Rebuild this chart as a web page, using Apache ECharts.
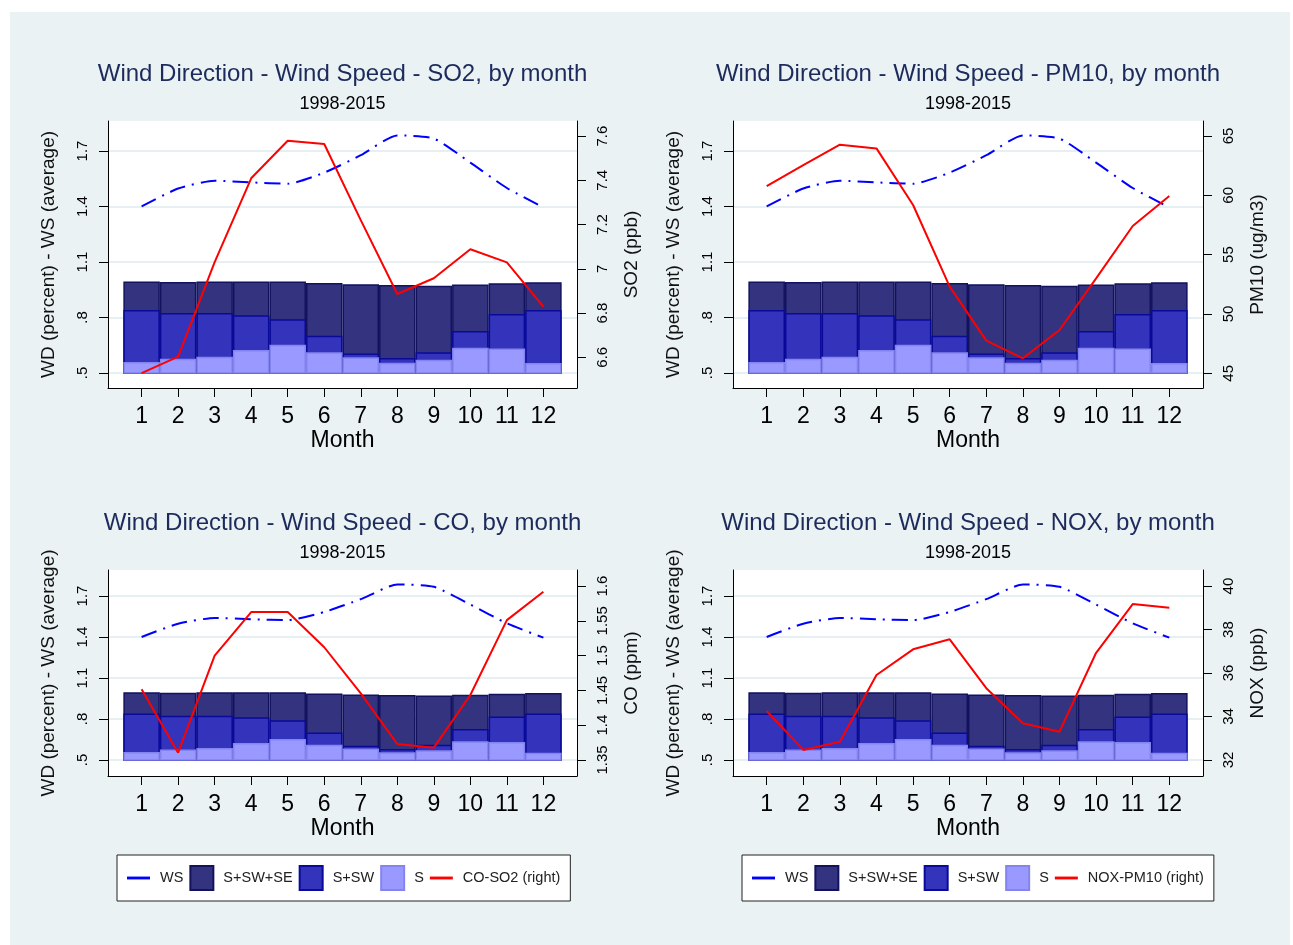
<!DOCTYPE html>
<html><head><meta charset="utf-8">
<script src="https://cdn.jsdelivr.net/npm/echarts@6/dist/echarts.min.js"></script>
<style>
html,body{margin:0;padding:0;background:#fff;}
#bg{position:absolute;left:10px;top:12px;width:1280px;height:933px;background:#eaf2f3;}
#chart{position:absolute;left:0;top:0;width:1293px;height:945px;}
</style></head><body>
<div id="bg"></div><div id="chart"></div>
<script>
// ---------- data ----------
const months = [1,2,3,4,5,6,7,8,9,10,11,12];
const ws   = [1.400,1.497,1.539,1.530,1.523,1.583,1.677,1.784,1.767,1.637,1.500,1.395];
const sse  = [0.995,0.992,0.995,0.995,0.995,0.986,0.980,0.975,0.972,0.978,0.985,0.990];
const sw   = [0.841,0.824,0.824,0.812,0.790,0.702,0.605,0.581,0.612,0.727,0.819,0.841];
const s    = [0.559,0.577,0.588,0.624,0.653,0.612,0.585,0.556,0.572,0.637,0.632,0.554];
const so2  = [6.528,6.603,7.030,7.409,7.579,7.564,7.220,6.886,6.957,7.088,7.029,6.829];
const pm10 = [60.78,62.55,64.26,63.95,59.18,52.30,47.75,46.26,48.65,53.00,57.41,59.94];
const co   = [1.4516,1.3605,1.4999,1.5626,1.5626,1.5120,1.4458,1.3730,1.3677,1.4434,1.5510,1.5918];
const nox  = [34.25,32.46,32.84,35.91,37.09,37.55,35.30,33.69,33.30,36.93,39.17,39.00];

const leftTicks = [0.5,0.8,1.1,1.4,1.7];
const leftTickLabels = ['.5','.8','1.1','1.4','1.7'];
const so2Ticks  = [6.6,6.8,7,7.2,7.4,7.6];
const pm10Ticks = [45,50,55,60,65];
const coTicks   = [1.35,1.4,1.45,1.5,1.55,1.6];
const noxTicks  = [32,34,36,38,40];
const barBase = 0.5;

// ---------- layout ----------
const FONT = '"Liberation Sans", Arial, Helvetica, sans-serif';
const xMin = 0.08, xMax = 12.92;
const panels = [
  {title:'Wind Direction - Wind Speed - SO2, by month', cx:342.5, ty:74, sy:104, left:108, top:121, width:469, height:267, lMin:0.419, lMax:1.862, rMin:6.461, rMax:7.668, rTicks:so2Ticks, rName:'SO2 (ppb)', red:so2, redName:'CO-SO2 (right)'},
  {title:'Wind Direction - Wind Speed - PM10, by month', cx:968, ty:74, sy:104, left:733, top:121, width:470, height:267, lMin:0.419, lMax:1.862, rMin:43.76, rMax:66.26, rTicks:pm10Ticks, rName:'PM10 (ug/m3)', red:pm10, redName:'NOX-PM10 (right)'},
  {title:'Wind Direction - Wind Speed - CO, by month', cx:342.5, ty:523, sy:553, left:108, top:570, width:469, height:206, lMin:0.383, lMax:1.890, rMin:1.327, rMax:1.623, rTicks:coTicks, rName:'CO (ppm)', red:co, redName:'CO-SO2 (right)'},
  {title:'Wind Direction - Wind Speed - NOX, by month', cx:968, ty:523, sy:553, left:733, top:570, width:470, height:206, lMin:0.383, lMax:1.890, rMin:31.26, rMax:40.74, rTicks:noxTicks, rName:'NOX (ppb)', red:nox, redName:'NOX-PM10 (right)'}
];

function leftFmt(v){
  let best = 0;
  for (let i=1;i<leftTicks.length;i++) if (Math.abs(leftTicks[i]-v) < Math.abs(leftTicks[best]-v)) best = i;
  return leftTickLabels[best];
}

const option = {
  animation:false,
  backgroundColor:'transparent',
  textStyle:{fontFamily:FONT},
  title:[], grid:[], xAxis:[], yAxis:[], series:[],
  legend:[]
};

panels.forEach((p,i)=>{
  option.title.push({text:p.title, left:p.cx, top:p.ty, textAlign:'center', textVerticalAlign:'middle', padding:0,
    textStyle:{fontFamily:FONT, fontSize:24, fontWeight:'normal', color:'#1c2b5c'}});
  option.title.push({text:'1998-2015', left:p.cx, top:p.sy, textAlign:'center', textVerticalAlign:'middle', padding:0,
    textStyle:{fontFamily:FONT, fontSize:18, fontWeight:'normal', color:'#000'}});
  // main grid (index 2i) and bar grid (index 2i+1) whose bottom sits at the bar base value
  option.grid.push({left:p.left, top:p.top, width:p.width, height:p.height, show:true, backgroundColor:'#fff', borderWidth:0, containLabel:false, outerBoundsMode:'none'});
  const barH = p.height*(p.lMax-barBase)/(p.lMax-p.lMin);
  option.grid.push({left:p.left, top:p.top, width:p.width, height:barH, show:false, containLabel:false, outerBoundsMode:'none'});

  option.xAxis.push({type:'value', gridIndex:2*i, min:xMin, max:xMax,
    axisLine:{show:true, onZero:false, lineStyle:{color:'#000', width:1}},
    axisTick:{show:true, length:9, customValues:months, lineStyle:{color:'#000', width:1}},
    axisLabel:{customValues:months, fontSize:23, margin:17, color:'#000', fontFamily:FONT},
    splitLine:{show:false},
    name:'Month', nameLocation:'middle', nameGap:41, nameTextStyle:{fontSize:23, color:'#000', fontFamily:FONT}});
  option.xAxis.push({type:'value', gridIndex:2*i+1, min:xMin, max:xMax, show:false});

  option.yAxis.push({type:'value', gridIndex:2*i, position:'left', min:p.lMin, max:p.lMax,
    axisLine:{show:true, onZero:false, lineStyle:{color:'#000', width:1}},
    axisTick:{show:true, length:9, customValues:leftTicks, lineStyle:{color:'#000', width:1}},
    axisLabel:{customValues:leftTicks, rotate:90, fontSize:15, margin:18, color:'#000', fontFamily:FONT, formatter:leftFmt},
    splitLine:{show:true, lineStyle:{color:'#e6eff1', width:2}},
    name:'WD (percent) - WS (average)', nameLocation:'middle', nameRotate:90, nameGap:50,
    nameTextStyle:{fontSize:19, color:'#111', fontFamily:FONT}});
  option.yAxis.push({type:'value', gridIndex:2*i, position:'right', min:p.rMin, max:p.rMax,
    axisLine:{show:true, onZero:false, lineStyle:{color:'#000', width:1}},
    axisTick:{show:true, length:9, customValues:p.rTicks, lineStyle:{color:'#000', width:1}},
    axisLabel:{customValues:p.rTicks, rotate:90, fontSize:15, margin:18, color:'#000', fontFamily:FONT},
    splitLine:{show:false},
    name:p.rName, nameLocation:'middle', nameRotate:90, nameGap:45,
    nameTextStyle:{fontSize:19, color:'#111', fontFamily:FONT}});
  option.yAxis.push({type:'value', gridIndex:2*i+1, min:barBase, max:p.lMax, show:false});

  const bw = p.width/(xMax-xMin);
  const common = {type:'bar', xAxisIndex:2*i+1, yAxisIndex:3*i+2, barWidth:bw, barGap:'-100%', silent:true, clip:true};
  option.series.push(Object.assign({}, common, {name:'S+SW+SE', data:months.map((m,k)=>[m,sse[k]]), itemStyle:{color:'#333380', borderColor:'#12125e', borderWidth:1.5}, z:2}));
  option.series.push(Object.assign({}, common, {name:'S+SW', data:months.map((m,k)=>[m,sw[k]]), itemStyle:{color:'#3333bb', borderColor:'#0a0a9a', borderWidth:1.5}, z:3}));
  option.series.push(Object.assign({}, common, {name:'S', data:months.map((m,k)=>[m,s[k]]), itemStyle:{color:'#9999ff', borderColor:'#8484ee', borderWidth:1.5}, z:4}));
  option.series.push({type:'line', name:'WS', xAxisIndex:2*i, yAxisIndex:3*i, data:months.map((m,k)=>[m,ws[k]]),
    symbol:'none', smooth:0.2, color:'#0000ff', lineStyle:{color:'#0000ff', width:2, type:[16,7,2,7]}, z:5});
  option.series.push({type:'line', name:p.redName, xAxisIndex:2*i, yAxisIndex:3*i+1, data:months.map((m,k)=>[m,p.red[k]]),
    symbol:'none', color:'#ff0000', lineStyle:{color:'#ff0000', width:2}, z:6});
});

const lineIcon = 'path://M0,0 L20,0 L20,2.5 L0,2.5 Z';
const legendCommon = {top:855, orient:'horizontal', itemWidth:23, itemHeight:24, itemGap:6,
  padding:[10,10,10,10], backgroundColor:'#fff', borderColor:'#222', borderWidth:1, borderRadius:0,
  textStyle:{fontSize:14.5, color:'#222', fontFamily:FONT, padding:[0,0,0,5]}, selectedMode:false};
option.legend.push(Object.assign({}, legendCommon, {left:117,
  data:[{name:'WS', icon:lineIcon},{name:'S+SW+SE', icon:'rect'},{name:'S+SW', icon:'rect'},{name:'S', icon:'rect'},{name:'CO-SO2 (right)', icon:lineIcon}]}));
option.legend.push(Object.assign({}, legendCommon, {left:742,
  data:[{name:'WS', icon:lineIcon},{name:'S+SW+SE', icon:'rect'},{name:'S+SW', icon:'rect'},{name:'S', icon:'rect'},{name:'NOX-PM10 (right)', icon:lineIcon}]}));

const chart = echarts.init(document.getElementById('chart'), null, {renderer:'canvas'});
chart.setOption(option);
</script>
</body></html>
